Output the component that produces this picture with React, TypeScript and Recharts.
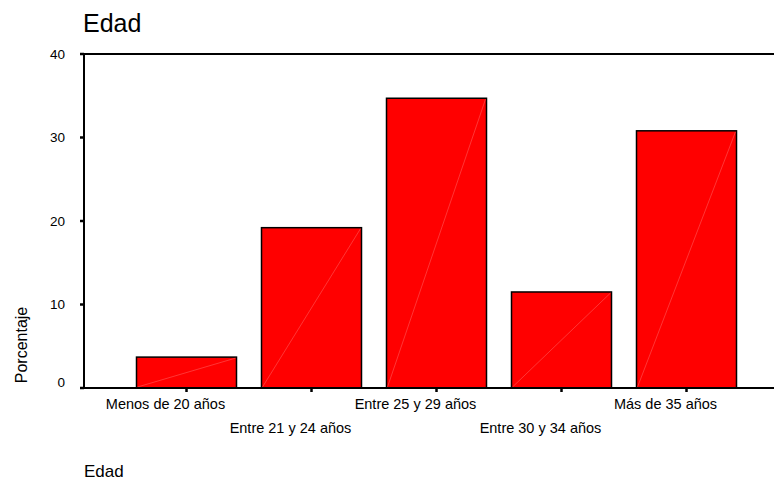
import { BarChart, Bar, XAxis, YAxis, ReferenceLine } from 'recharts';

const categories = [
  'Menos de 20 años',
  'Entre 21 y 24 años',
  'Entre 25 y 29 años',
  'Entre 30 y 34 años',
  'Más de 35 años',
];
const porcentajes = [3.7, 19.2, 34.7, 11.5, 30.8];
const yTicks = [0, 10, 20, 30, 40];

const data = categories.map((edad, i) => ({ edad, porcentaje: porcentajes[i] }));

const FONT = '"Liberation Sans", Arial, sans-serif';

// bars with the thin diagonal seam seen in the original export
const BarShape = (props: any) => {
  const { x, y, width, height } = props;
  if (!height) return null;
  return (
    <g>
      <rect x={x} y={y} width={width} height={height} fill="#ff0000" stroke="#000" strokeWidth={1.5} />
      <line x1={x + 1} y1={y + height - 1} x2={x + width - 1} y2={y + 1} stroke="#ff6a6a" strokeWidth={0.5} />
    </g>
  );
};

// labels alternate between two rows, sitting a bit left of the tick
const XTick = (props: any) => {
  const { x, y, payload, index } = props;
  return (
    <text
      x={x - 21}
      y={y + (index % 2 ? 41 : 17)}
      textAnchor="middle"
      fontSize={14.5}
      fontFamily={FONT}
      fill="#000"
    >
      {payload.value}
    </text>
  );
};

const YTick = (props: any) => {
  const { x, y, payload } = props;
  return (
    <text
      x={x}
      y={y + (payload.value === 0 ? -6 : 0)}
      textAnchor="end"
      dominantBaseline="central"
      fontSize={13.5}
      fontFamily={FONT}
      fill="#000"
    >
      {payload.value}
    </text>
  );
};

export default function App() {
  return (
    <div style={{ position: 'relative', width: 774, height: 474 }}>
      <BarChart
        width={774}
        height={474}
        data={data}
        margin={{ top: 46, right: 0, bottom: 34, left: 0 }}
        barCategoryGap="10%"
      >
        <XAxis
          dataKey="edad"
          interval={0}
          height={60}
          padding={{ left: 40, right: 33 }}
          axisLine={{ stroke: '#000', strokeWidth: 2 }}
          tickLine={{ stroke: '#000', strokeWidth: 2.5 }}
          tickSize={4}
          tickMargin={0}
          tick={<XTick />}
        />
        <YAxis
          width={76}
          domain={[0, 40]}
          ticks={yTicks}
          interval={0}
          axisLine={{ stroke: '#000', strokeWidth: 2 }}
          tickLine={{ stroke: '#000', strokeWidth: 2.5 }}
          tickSize={4}
          tickMargin={15}
          tick={<YTick />}
        />
        <ReferenceLine y={40} stroke="#000" strokeWidth={2} />
        <Bar dataKey="porcentaje" shape={<BarShape />} isAnimationActive={false} />
      </BarChart>
      <svg
        width={774}
        height={474}
        style={{ position: 'absolute', left: 0, top: 0, pointerEvents: 'none' }}
      >
        <text x={75} y={24} fontSize={25} fontFamily={FONT} fill="#000">Edad</text>
        <text
          x={13.5}
          y={337}
          transform="rotate(-90 13.5 337)"
          textAnchor="middle"
          dominantBaseline="central"
          fontSize={16}
          fontFamily={FONT}
          fill="#000"
        >
          Porcentaje
        </text>
        <text x={76} y={469} fontSize={17} fontFamily={FONT} fill="#000">Edad</text>
      </svg>
    </div>
  );
}
